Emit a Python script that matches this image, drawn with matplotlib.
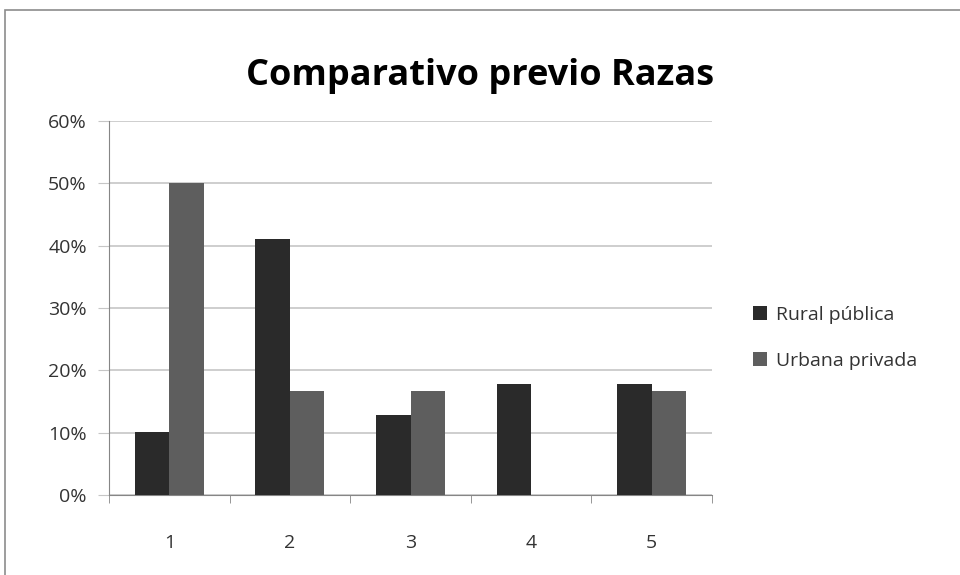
import numpy as np
import matplotlib
matplotlib.use("Agg")
import matplotlib.pyplot as plt
from matplotlib.patches import Rectangle

plt.rcParams['font.family'] = ['Open Sans', 'DejaVu Sans']

categories = ['1', '2', '3', '4', '5']
rural_publica = [10.1, 41.0, 12.8, 17.8, 17.8]
urbana_privada = [50.0, 16.7, 16.7, 0.0, 16.7]
y_ticks = [0, 10, 20, 30, 40, 50, 60]

fig = plt.figure(figsize=(9.6, 5.75), dpi=100)
# chart frame (only top and left edges are inside the picture)
fig.patches.append(Rectangle((5 / 960, -0.1), 1.2, 1 - 10 / 575 + 0.1,
                             transform=fig.transFigure, fill=False,
                             edgecolor='#8c8c8c', linewidth=1.2))

ax = fig.add_axes([109 / 960, 1 - 495 / 575, 603 / 960, 374 / 575])

x = np.arange(len(categories))
w = 1 / 3.5
ax.bar(x - w / 2, rural_publica, w, color='#2a2a2a', label='Rural pública', zorder=3)
ax.bar(x + w / 2, urbana_privada, w, color='#5e5e5e', label='Urbana privada', zorder=3)

ax.set_xlim(-0.5, len(categories) - 0.5)
ax.set_ylim(0, 60)
ax.set_yticks(y_ticks)
ax.set_yticklabels([f'{t}%' for t in y_ticks])
ax.yaxis.grid(True, color='#c6c6c6', linewidth=1.2, zorder=0)

ax.set_xticks(x)
ax.set_xticklabels(categories)
ax.set_xticks(np.arange(len(categories) + 1) - 0.5, minor=True)
ax.tick_params(axis='x', which='major', length=0, pad=28, labelsize=14, labelcolor='#333333')
ax.tick_params(axis='x', which='minor', length=6, color='#868686', direction='out')
ax.tick_params(axis='y', length=8, color='#c6c6c6', pad=8, labelsize=14, labelcolor='#333333')

for s in ['top', 'right']:
    ax.spines[s].set_visible(False)
ax.spines['left'].set_color('#868686')
ax.spines['bottom'].set_color('#868686')

fig.text(0.5, 1 - 76 / 575, 'Comparativo previo Razas', ha='center', va='center',
         fontsize=26, fontweight='bold', color='black')

ax.legend(loc='center left', bbox_to_anchor=(735 / 960, 1 - 338 / 575),
          bbox_transform=fig.transFigure, frameon=False, fontsize=14,
          handlelength=0.75, handleheight=0.75, handletextpad=0.45, labelspacing=1.45,
          labelcolor='#333333')

fig.savefig('out.png', dpi=100)
